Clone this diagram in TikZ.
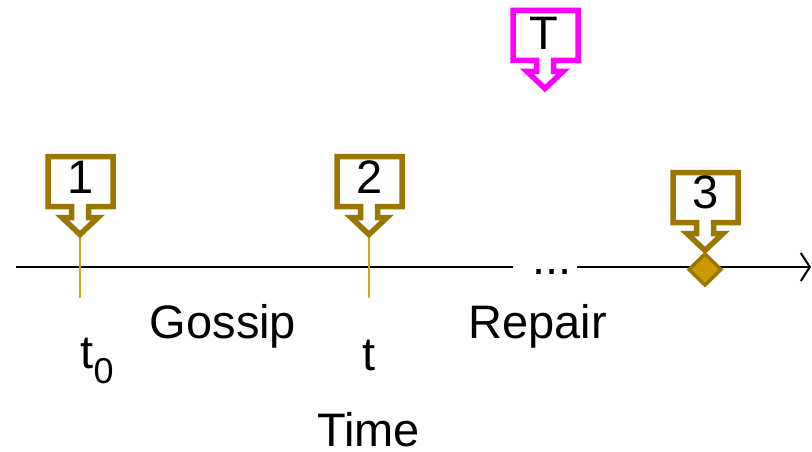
\documentclass[tikz,border=0pt]{standalone}
\usepackage{fontspec}
\setmainfont{Liberation Sans}
\usetikzlibrary{shapes.geometric,arrows.meta}
\definecolor{calloutgold}{RGB}{153,119,0}
\definecolor{tickgold}{RGB}{214,160,30}
\definecolor{markfill}{RGB}{204,153,0}
\definecolor{tmagenta}{RGB}{255,0,255}
\begin{document}
\begin{tikzpicture}[x=1pt,y=-1pt,
  every node/.style={inner sep=0pt, outer sep=0pt, font=\fontsize{47}{56}\selectfont},
  txt/.style={anchor=base},
  axis/.style={line width=2pt, black},
  tickline/.style={line width=1.5pt, tickgold},
  % arrow-shaped callout box, drawn with its tip at the origin
  callout/.pic={
    \draw[line width=5.5pt, line join=miter, miter limit=10]
      (0,0) -- (-18,-17) -- (-8.5,-17) -- (-8.5,-28) -- (-32,-28) -- (-32,-78)
      -- (33,-78) -- (33,-28) -- (8.5,-28) -- (8.5,-17) -- (18,-17) -- cycle;
  },
  event/.style={diamond, draw=calloutgold, fill=markfill, line width=3.5pt,
    minimum width=32pt, minimum height=31pt}
]
\useasboundingbox (0,0) rectangle (812,452);

% time axis with a gap
\coordinate (start) at (16,267);
\coordinate (gapL) at (513,267);
\coordinate (gapR) at (577,267);
\coordinate (end) at (811,267);
\node[txt] (dots) at (552,274) {...};
\draw[axis] (start) -- (gapL);
\draw[axis, -{Straight Barb[length=9pt,width=28pt]}] (gapR) -- (end);

% ticks
\coordinate (tip1) at (80,234.5);
\coordinate (foot1) at (80,298);
\coordinate (tip2) at (369,234.5);
\coordinate (foot2) at (369,298);
\draw[tickline] (tip1) -- (foot1);
\draw[tickline] (tip2) -- (foot2);

% event marker
\node[event] (mark3) at (705,269.5) {};

% callouts
\coordinate (tip3) at (705,250.5);
\coordinate (tipT) at (545,88.5);
\pic[color=calloutgold] at (tip1) {callout};
\pic[color=calloutgold] at (tip2) {callout};
\pic[color=calloutgold] at (tip3) {callout};
\pic[color=tmagenta] at (tipT) {callout};
\node[txt] (n1) at (81,193) {1};
\node[txt] (n2) at (370,193) {2};
\node[txt] (n3) at (706,208) {3};
\node[txt] (nT) at (544,50) {T};

% labels
\node[txt] (t0) at (97,368) {t\raisebox{-15pt}{\fontsize{36}{40}\selectfont 0}};
\node[txt] (t) at (369,370) {t};
\node[txt] (gossip) at (223,338) {Gossip};
\node[txt] (repair) at (537.5,338) {Repair};
\node[txt] (time) at (368.5,446) {Time};
\end{tikzpicture}
\end{document}
